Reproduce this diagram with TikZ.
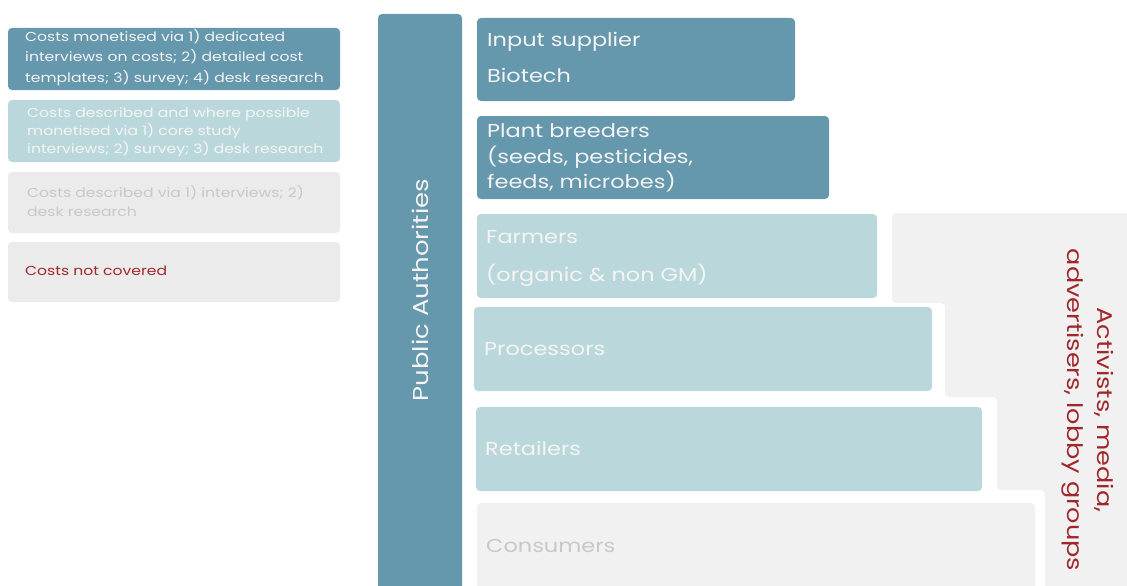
\documentclass[tikz,border=0pt]{standalone}
\usepackage{fontspec}
\setmainfont[FakeStretch=1.2]{Poppins}
\usetikzlibrary{calc}
\definecolor{dteal}{HTML}{6597AD}
\definecolor{lteal}{HTML}{BAD8DB}
\definecolor{lgrey}{HTML}{F1F1F1}
\definecolor{mgrey}{HTML}{EBEBEB}
\definecolor{dred}{HTML}{A0282D}
\definecolor{txtw}{HTML}{F4F4F4}
\definecolor{txtg}{HTML}{C8C8C8}
\begin{document}
\begin{tikzpicture}[x=1pt,y=-1pt,
  blk/.style={draw=none, rounded corners=4pt, inner sep=0pt, outer sep=0pt, anchor=north west},
  lbl/.style={anchor=base west, inner sep=0pt, font=\fontsize{18.7}{20}\selectfont, text=txtw},
  leg/.style={anchor=base west, inner sep=0pt, font=\fontsize{13}{14}\selectfont},
]
\useasboundingbox (0,0) rectangle (1127,586);
% legend
\node[blk, fill=dteal, minimum width=332pt, minimum height=62pt] (l1) at (8,28) {};
\node[blk, fill=lteal, minimum width=332pt, minimum height=62pt] (l2) at (8,100) {};
\node[blk, fill=mgrey, minimum width=332pt, minimum height=61pt] (l3) at (8,172) {};
\node[blk, fill=mgrey, minimum width=332pt, minimum height=60pt] (l4) at (8,242) {};
\node[leg, text=txtw] (l1a) at (25,42) {Costs monetised via 1) dedicated};
\node[leg, text=txtw] (l1b) at (25,62) {interviews on costs; 2) detailed cost};
\node[leg, text=txtw] (l1c) at (25,82) {templates; 3) survey; 4) desk research};
\node[leg, text=txtw] (l2a) at (27,117) {Costs described and where possible};
\node[leg, text=txtw] (l2b) at (27,135) {monetised via 1) core study};
\node[leg, text=txtw] (l2c) at (27,153) {interviews; 2) survey; 3) desk research};
\node[leg, text=txtg] (l3a) at (27,197) {Costs described via 1) interviews; 2)};
\node[leg, text=txtg] (l3b) at (27,216) {desk research};
\node[leg, text=dred] (l4a) at (25,275) {Costs not covered};
% right staircase
\fill[lgrey, rounded corners=4pt] (892,213) -- (1135,213) -- (1135,595) -- (1045,595) -- (1045,490) -- (997,490) -- (997,397) -- (945,397) -- (945,303) -- (892,303) -- cycle;
\node[rotate=-90, align=center, text=dred, font=\fontsize{21.3}{30}\selectfont, inner sep=0pt] (act) at (1088,410) {Activists, media,\\advertisers, lobby groups};
% public authorities
\node[blk, fill=dteal, minimum width=84pt, minimum height=580pt] (pa) at (378,14) {};
\node[rotate=90, text=txtw, font=\fontsize{21.6}{26}\selectfont, inner sep=0pt] (pat) at (pa.center |- 0,290) {Public Authorities};
% chain
\node[blk, fill=dteal, minimum width=318pt, minimum height=83pt] (inp) at (477,18) {};
\node[lbl] (inpa) at (487,47) {Input supplier};
\node[lbl] (inpb) at (487,82) {Biotech};
\node[blk, fill=dteal, minimum width=352pt, minimum height=83pt] (pb) at (477,116) {};
\node[lbl] (pba) at (487,137) {Plant breeders};
\node[lbl] (pbb) at (487,163) {(seeds, pesticides,};
\node[lbl] (pbc) at (487,188) {feeds, microbes)};
\node[blk, fill=lteal, minimum width=400pt, minimum height=84pt] (fa) at (477,214) {};
\node[lbl] (faa) at (486,243) {Farmers};
\node[lbl] (fab) at (486,281) {(organic \& non GM)};
\node[blk, fill=lteal, minimum width=458pt, minimum height=84pt] (pr) at (474,307) {};
\node[lbl] (pra) at (484,355) {Processors};
\node[blk, fill=lteal, minimum width=506pt, minimum height=84pt] (re) at (476,407) {};
\node[lbl] (rea) at (485,455) {Retailers};
\node[blk, fill=lgrey, minimum width=558pt, minimum height=90pt] (co) at (477,503) {};
\node[lbl, text=txtg] (coa) at (486,552) {Consumers};
\end{tikzpicture}
\end{document}
